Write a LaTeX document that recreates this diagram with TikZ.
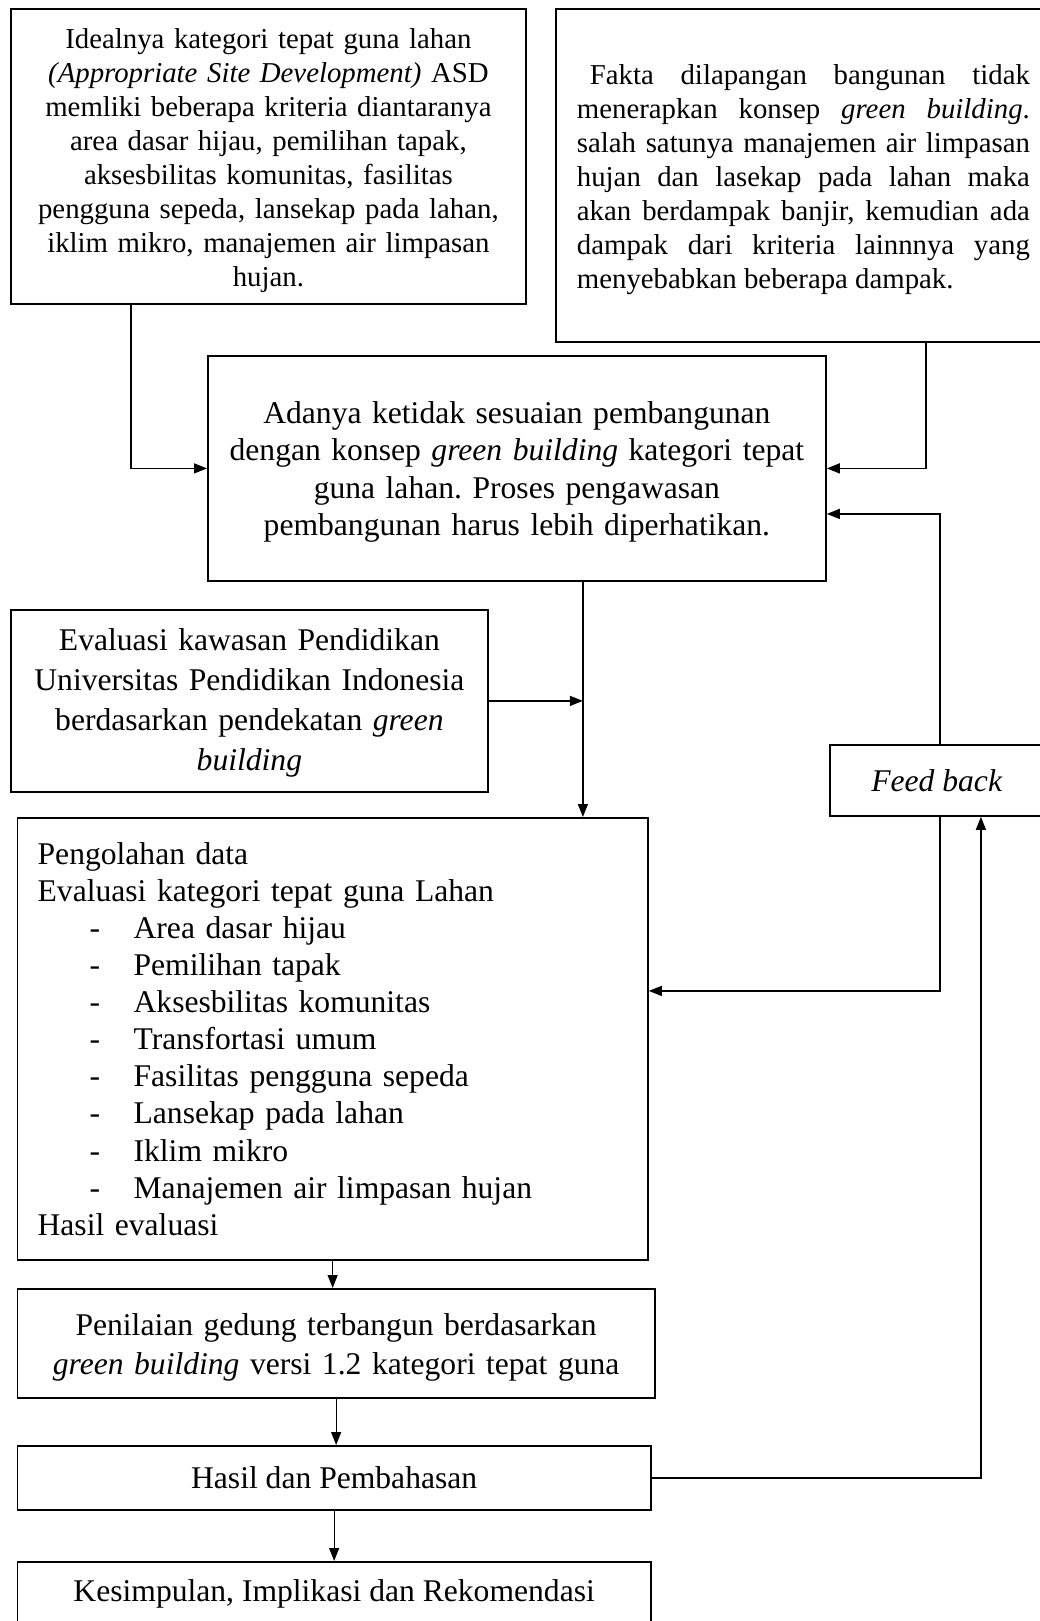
\documentclass[tikz,border=0pt]{standalone}
\usepackage{fontspec}
\setmainfont{Liberation Serif}
\usetikzlibrary{arrows.meta,calc}
\frenchspacing
\begin{document}
\begin{tikzpicture}[x=1pt,y=-1pt,
  box/.style={draw, line width=1.8pt, inner sep=0pt, anchor=north west, align=center,
    font=\fontsize{31.6}{37.2}\selectfont\frenchspacing},
  smallfont/.style={font=\fontsize{28.8}{34}\selectfont\frenchspacing},
  arr/.style={line width=1.3pt, -{Triangle[length=13pt,width=10pt]}},
  ln/.style={line width=1.3pt}]
\useasboundingbox (0,0) rectangle (1040,1621);
\clip (0,0) rectangle (1040,1621);
\fill[white] (0,0) rectangle (1040,1621);

% Box A
\node[box, smallfont, minimum width=515pt, minimum height=295pt, text width=490pt] (A) at (10,8)
 {\rule{0pt}{28pt}Idealnya kategori tepat guna lahan\\
  \textit{(Appropriate Site Development)} ASD\\
  memliki beberapa kriteria diantaranya\\
  area dasar hijau, pemilihan tapak,\\
  aksesbilitas komunitas, fasilitas\\
  pengguna sepeda, lansekap pada lahan,\\
  iklim mikro, manajemen air limpasan\\
  hujan.};

% Box B
\node[box, smallfont, minimum width=495pt, minimum height=333pt, text width=453pt, align=left] (B) at (555,8)
 {\spaceskip=0pt \xspaceskip=0pt
  \rule{0pt}{28pt}\hspace*{13pt}\makebox[440pt][s]{Fakta dilapangan bangunan tidak}\\
  \makebox[453pt][s]{menerapkan konsep \textit{green building}.}\\
  \makebox[453pt][s]{salah satunya manajemen air limpasan}\\
  \makebox[453pt][s]{hujan dan lasekap pada lahan maka}\\
  \makebox[453pt][s]{akan berdampak banjir, kemudian ada}\\
  \makebox[453pt][s]{dampak dari kriteria lainnnya yang}\\
  menyebabkan beberapa dampak.};

% Box C
\node[box, minimum width=618pt, minimum height=225pt, text width=590pt] (C) at (207,355)
 {\rule{0pt}{29pt}Adanya ketidak sesuaian pembangunan\\
  dengan konsep \textit{green building} kategori tepat\\
  guna lahan. Proses pengawasan\\
  pembangunan harus lebih diperhatikan.};

% Box D
\node[box, font=\fontsize{31.6}{39.7}\selectfont, minimum width=477pt, minimum height=182pt, text width=450pt] (D) at (10,609)
 {\rule{0pt}{26pt}Evaluasi kawasan Pendidikan\\
  Universitas Pendidikan Indonesia\\
  berdasarkan pendekatan \textit{green}\\
  \textit{building}};

% Feed back
\node[box, minimum width=214pt, minimum height=71pt] (FB) at (829,744) {\textit{Feed back}};

% Box E
\node[box, font=\fontsize{31.6}{37.1}\selectfont, minimum width=630.5pt, minimum height=442pt, text width=590pt, align=left] (E) at (16.5,817)
 {Pengolahan data\\
  Evaluasi kategori tepat guna Lahan\\
  \makebox[96pt][l]{\hspace*{52pt}-}Area dasar hijau\\
  \makebox[96pt][l]{\hspace*{52pt}-}Pemilihan tapak\\
  \makebox[96pt][l]{\hspace*{52pt}-}Aksesbilitas komunitas\\
  \makebox[96pt][l]{\hspace*{52pt}-}Transfortasi umum\\
  \makebox[96pt][l]{\hspace*{52pt}-}Fasilitas pengguna sepeda\\
  \makebox[96pt][l]{\hspace*{52pt}-}Lansekap pada lahan\\
  \makebox[96pt][l]{\hspace*{52pt}-}Iklim mikro\\
  \makebox[96pt][l]{\hspace*{52pt}-}Manajemen air limpasan hujan\\
  Hasil evaluasi};

% Box F
\node[box, font=\fontsize{31.6}{39.5}\selectfont, minimum width=637.5pt, minimum height=109pt, text width=620pt] (F) at (16.5,1288)
 {\rule{0pt}{30pt}Penilaian gedung terbangun berdasarkan\\
  \textit{green building} versi 1.2 kategori tepat guna};

% Box G
\node[box, minimum width=633.5pt, minimum height=64pt] (G) at (16.5,1445) {Hasil dan Pembahasan};

% Box H
\node[box, minimum width=633.5pt, minimum height=64pt] (H) at (16.5,1561) {Kesimpulan, Implikasi dan Rekomendasi};

% connectors
\draw[arr] ($(A.south west)+(121,0)$) |- (C.west);
\draw[arr] ($(B.south west)+(371,0)$) |- (C.east);
\draw[arr] ($(FB.north)+(3,0)$) |- ($(C.east)+(0,45.5)$);
\coordinate (c1) at ($(C.south)+(66,0)$);
\draw[arr] (c1) -- (c1 |- E.north);
\draw[arr] (D.east) -- (D.east -| c1);
\draw[arr] ($(FB.south)+(3,0)$) |- ($(E.east)+(0,-48)$);
\draw[arr] (G.east) -| ($(FB.south)+(44,0)$);
\draw[arr] (E.south) -- (E.south |- F.north);
\draw[arr] (F.south) -- (F.south |- G.north);
\draw[arr] (G.south) -- (G.south |- H.north);
\end{tikzpicture}
\end{document}
